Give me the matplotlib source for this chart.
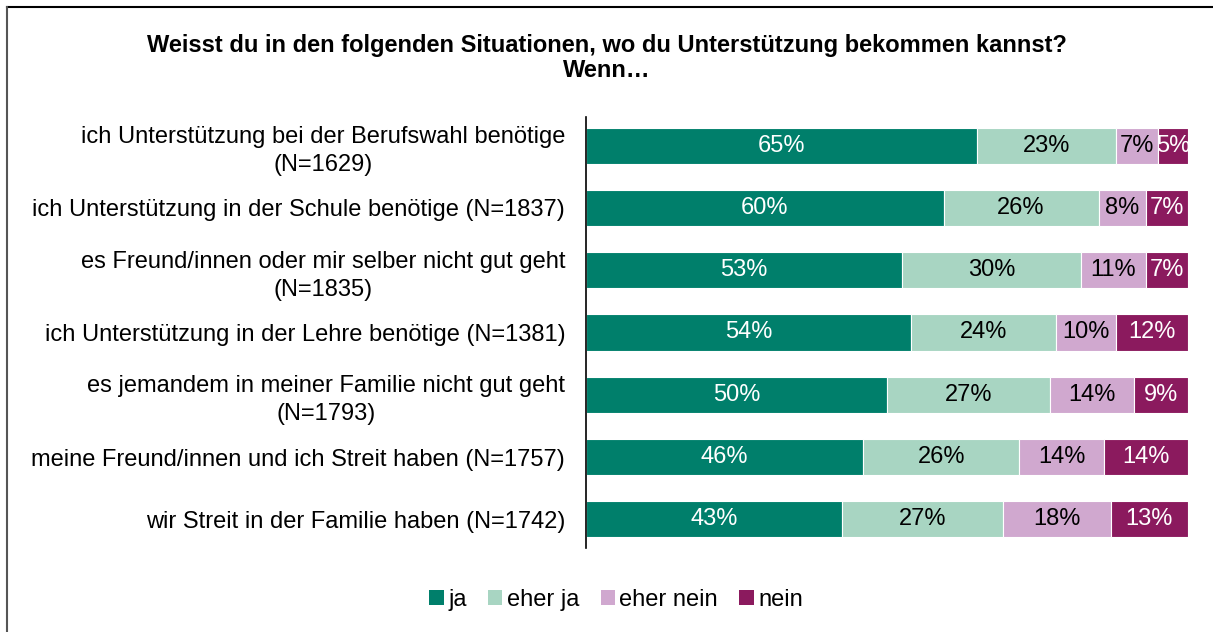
import matplotlib.pyplot as plt
import numpy as np
from matplotlib.lines import Line2D
from matplotlib.patches import Patch

plt.rcParams['font.family'] = ['Liberation Sans', 'DejaVu Sans']

categories = [
    "ich Unterstützung bei der Berufswahl benötige\n(N=1629)",
    "ich Unterstützung in der Schule benötige (N=1837)",
    "es Freund/innen oder mir selber nicht gut geht\n(N=1835)",
    "ich Unterstützung in der Lehre benötige (N=1381)",
    "es jemandem in meiner Familie nicht gut geht\n(N=1793)",
    "meine Freund/innen und ich Streit haben (N=1757)",
    "wir Streit in der Familie haben (N=1742)",
]
ja = [65, 60, 53, 54, 50, 46, 43]
eher_ja = [23, 26, 30, 24, 27, 26, 27]
eher_nein = [7, 8, 11, 10, 14, 14, 18]
nein = [5, 7, 7, 12, 9, 14, 13]

series = [("ja", ja, "#007F6B", "white"),
          ("eher ja", eher_ja, "#A8D5C2", "black"),
          ("eher nein", eher_nein, "#D0A8CF", "black"),
          ("nein", nein, "#8B1A5E", "white")]

fig = plt.figure(figsize=(12.13, 6.32), dpi=100)
ax = fig.add_axes([586 / 1213, 1 - 548 / 632, 602 / 1213, 431 / 632])

# bars are 100% stacked, labels keep the rounded values
totals = np.array(ja) + np.array(eher_ja) + np.array(eher_nein) + np.array(nein)
y = np.arange(len(categories))
left = np.zeros(len(categories))
for name, vals, color, tcol in series:
    vals = np.array(vals, dtype=float)
    w = vals / totals * 100
    ax.barh(y, w, left=left, height=0.58, color=color, edgecolor="white", linewidth=0.8)
    for yi, li, wi, v in zip(y, left, w, vals):
        ax.text(li + wi / 2, yi, f"{int(v)}%", ha="center", va="center",
                color=tcol, fontsize=17)
    left += w

ax.set_xlim(0, 100)
ax.set_ylim(len(categories) - 0.54, -0.46)
ax.set_yticks(y)
ax.set_yticklabels(categories, fontsize=17, linespacing=1.35)
for lab in ax.get_yticklabels():
    lab.set_multialignment("center")
ax.tick_params(axis="y", length=0, pad=15)
ax.set_xticks([])
for s in ["top", "right", "bottom"]:
    ax.spines[s].set_visible(False)
ax.spines["left"].set_linewidth(1.2)

fig.text(0.5, 1 - 58 / 632, "Weisst du in den folgenden Situationen, wo du Unterstützung bekommen kannst?\nWenn…",
         ha="center", va="center", fontsize=17, fontweight="bold", linespacing=1.15)

handles = [Patch(facecolor=c, label=n) for n, _, c, _ in series]
fig.legend(handles=handles, loc="center", bbox_to_anchor=(0.508, 1 - 600 / 632), ncol=4,
           frameon=False, fontsize=17, handlelength=0.6, handleheight=0.6,
           handletextpad=0.2, columnspacing=0.9)

fig.add_artist(Line2D([7 / 1213, 1], [1 - 7 / 632, 1 - 7 / 632], color="black", lw=1.5,
                      transform=fig.transFigure))
fig.add_artist(Line2D([7 / 1213, 7 / 1213], [0, 1 - 7 / 632], color="#555555", lw=1.5,
                      transform=fig.transFigure))

fig.savefig("out.png", dpi=100)
